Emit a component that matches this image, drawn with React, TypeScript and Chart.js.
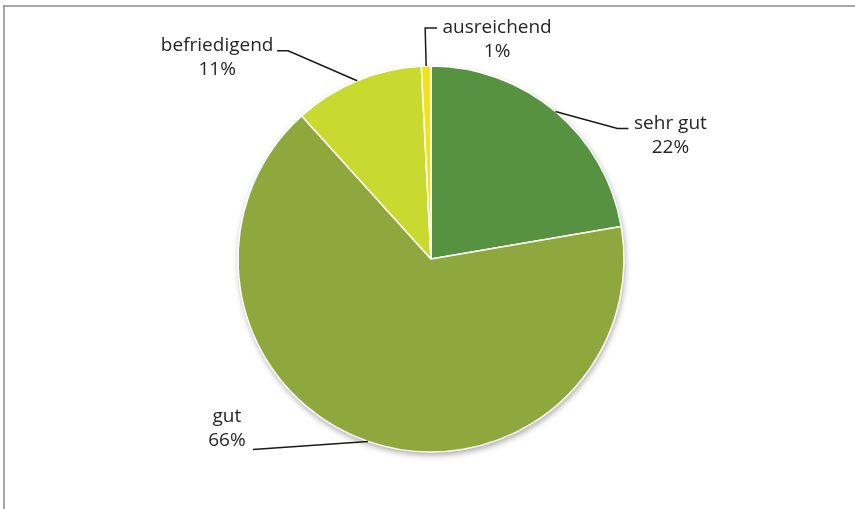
import React, { useEffect, useRef } from "react";
import { Chart, registerables } from "chart.js";

Chart.register(...registerables);

const categories = ["sehr gut", "gut", "befriedigend", "ausreichend"];
const values = [22.3, 66.0, 10.9, 0.8];
const percentLabels = ["22%", "66%", "11%", "1%"];
const colors = ["#56923F", "#8FA83D", "#C8D92F", "#F0E317"];

// label layout: text offset from arc-edge midpoint, and leader path offsets
const LABEL_LAYOUT = [
  { text: [115, 24], path: [[62, 17], [73, 17]] },
  { text: [-141, -13], path: [[-115, 8]] },
  { text: [-140, -23], path: [[-69, -30], [-80, -30]] },
  { text: [71, -26], path: [[-1, -38], [11, -38]] },
];

const FONT = '19px "Open Sans", sans-serif';

const shadowPlugin = {
  id: "pieShadow",
  beforeDatasetsDraw(chart: any) {
    const meta = chart.getDatasetMeta(0);
    const arc = meta.data[0];
    if (!arc) return;
    const { x, y, outerRadius } = arc.getProps(["x", "y", "outerRadius"], true);
    const ctx = chart.ctx;
    ctx.save();
    ctx.shadowColor = "rgba(0,0,0,0.35)";
    ctx.shadowBlur = 6;
    ctx.shadowOffsetX = 1;
    ctx.shadowOffsetY = 3;
    ctx.beginPath();
    ctx.arc(x, y, outerRadius, 0, Math.PI * 2);
    ctx.fillStyle = "#ffffff";
    ctx.fill();
    ctx.restore();
  },
};

const labelPlugin = {
  id: "leaderLabels",
  afterDatasetsDraw(chart: any) {
    const meta = chart.getDatasetMeta(0);
    const ctx = chart.ctx;
    ctx.save();
    meta.data.forEach((el: any, i: number) => {
      const { x, y, startAngle, endAngle, outerRadius } = el.getProps(
        ["x", "y", "startAngle", "endAngle", "outerRadius"],
        true
      );
      const mid = (startAngle + endAngle) / 2;
      const ex = x + Math.cos(mid) * outerRadius;
      const ey = y + Math.sin(mid) * outerRadius;
      const lay = LABEL_LAYOUT[i];
      ctx.beginPath();
      ctx.moveTo(ex, ey);
      lay.path.forEach((p) => ctx.lineTo(ex + p[0], ey + p[1]));
      ctx.strokeStyle = "#1a1a1a";
      ctx.lineWidth = 1.5;
      ctx.stroke();
      const tx = ex + lay.text[0];
      const ty = ey + lay.text[1];
      ctx.font = FONT;
      ctx.fillStyle = "#262626";
      ctx.textAlign = "center";
      ctx.textBaseline = "middle";
      ctx.fillText(categories[i], tx, ty - 12);
      ctx.fillText(percentLabels[i], tx, ty + 12);
    });
    ctx.restore();
  },
};

export default function App() {
  const ref = useRef<HTMLCanvasElement | null>(null);
  useEffect(() => {
    document.body.style.margin = "0";
    const chart = new Chart(ref.current as HTMLCanvasElement, {
      type: "pie",
      data: {
        labels: categories,
        datasets: [
          {
            data: values,
            backgroundColor: colors,
            borderColor: "#ffffff",
            borderWidth: 1.5,
            hoverOffset: 0,
          },
        ],
      },
      options: {
        animation: false,
        responsive: false,
        radius: 193,
        layout: { padding: { left: 238, right: 231, top: 66, bottom: 57 } },
        plugins: {
          legend: { display: false },
          tooltip: { enabled: false },
        },
        events: [],
      } as any,
      plugins: [shadowPlugin, labelPlugin],
    });
    return () => chart.destroy();
  }, []);
  return (
    <div style={{ position: "relative", width: 855, height: 509, background: "#fff", overflow: "hidden" }}>
      <div
        style={{
          position: "absolute",
          left: 3,
          top: 5,
          width: 900,
          height: 600,
          borderLeft: "2px solid #a6a6a6",
          borderTop: "2px solid #a6a6a6",
        }}
      />
      <canvas ref={ref} width={855} height={509} style={{ position: "absolute", left: 0, top: 0 }} />
    </div>
  );
}
